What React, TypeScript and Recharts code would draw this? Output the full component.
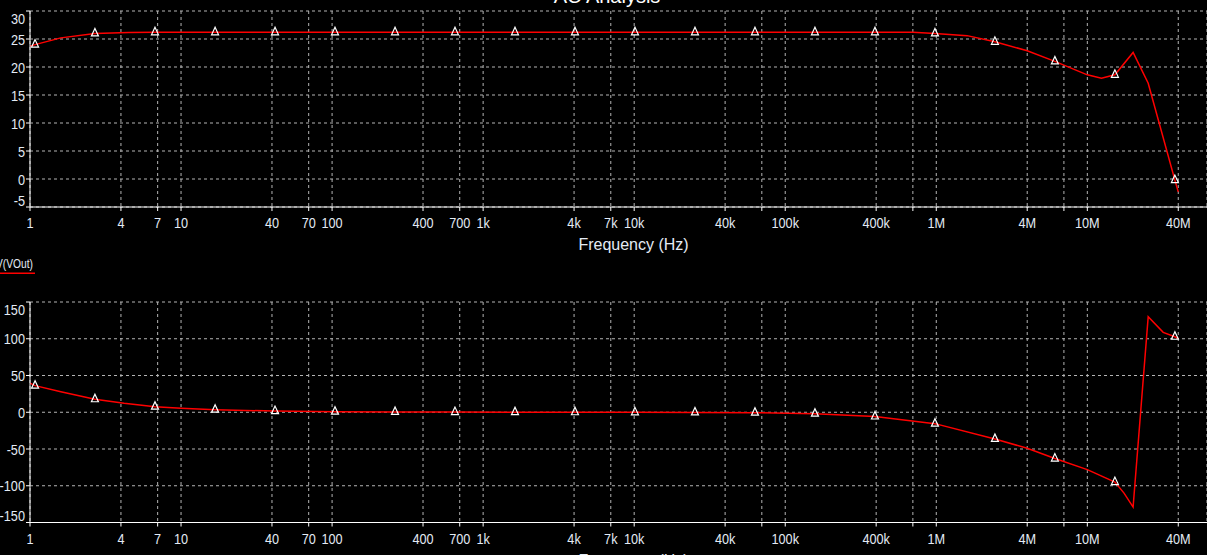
import React from "react";
import { ComposedChart, Line, Scatter, XAxis, YAxis, CartesianGrid } from "recharts";

// frequency sweep, Hz
const markerFreq = [1.08, 2.69, 6.72, 16.8, 41.9, 104.5, 261, 651, 1625, 4055, 10120, 25260, 63040, 157300, 392700, 980000, 2.445e6, 6.1e6, 1.523e7, 3.8e7];
const gainMarks = [24.0, 26.0, 26.2, 26.2, 26.2, 26.2, 26.2, 26.2, 26.2, 26.2, 26.2, 26.2, 26.2, 26.2, 26.2, 26.0, 24.5, 21.0, 18.6, -0.2];
const phaseMarks = [36.2, 17.7, 7.6, 3.5, 1.6, 0.8, 0.4, 0.2, 0.1, 0, -0.1, -0.3, -0.6, -1.9, -5.8, -15.5, -36.3, -63, -95, 102.7];

const gainFreq = [1, 1.08, 1.6, 2.69, 4.5, 6.72, 700000, 980000, 1.6e6, 2.445e6, 4e6, 6.1e6, 1e7, 1.24e7, 1.523e7, 2.01e7, 2.53e7, 3.8e7, 4e7];
const gainDb = [23.7, 24.0, 25.2, 26.0, 26.15, 26.2, 26.2, 26.0, 25.6, 24.5, 22.9, 21.0, 18.6, 18.0, 18.6, 22.6, 17.1, -0.2, -2.3];

const phaseFreq = [1, 1.08, 1.6, 2.69, 4.2, 6.72, 10, 16.8, 41.9, 104.5, 261, 651, 1625, 4055, 10120, 25260, 63040, 157300, 392700, 980000, 2.445e6, 4e6, 6.1e6, 1e7, 1.523e7, 1.75e7, 2.01e7, 2.53e7, 3.18e7, 3.8e7, 4e7];
const phaseDeg = [39.4, 36.2, 28, 17.7, 12.2, 7.6, 5.5, 3.5, 1.6, 0.8, 0.4, 0.2, 0.1, 0, -0.1, -0.3, -0.6, -1.9, -5.8, -15.5, -36.3, -49, -63, -78, -95, -110, -129, 130, 108.7, 102.7, 100.5];

const freqTicks = [1, 4, 7, 10, 40, 70, 100, 400, 700, 1e3, 4e3, 7e3, 1e4, 4e4, 7e4, 1e5, 4e5, 7e5, 1e6, 4e6, 7e6, 1e7, 4e7];
const hiddenTicks = [7e4, 7e5, 7e6];
const gainTicks = [-5, 0, 5, 10, 15, 20, 25, 30];
const phaseTicks = [-150, -100, -50, 0, 50, 100, 150];

const gainCurve = gainFreq.map((f, i) => ({ f, v: gainDb[i] }));
const phaseCurve = phaseFreq.map((f, i) => ({ f, v: phaseDeg[i] }));
const gainMarkData = markerFreq.map((f, i) => ({ f, v: gainMarks[i] }));
const phaseMarkData = markerFreq.map((f, i) => ({ f, v: phaseMarks[i] }));

const W = 1207;
const X_MAX = 6.2e7;
const FONT = "'Liberation Sans', Arial, sans-serif";
const TICK_COLOR = "#e4ebf5";
const GRID = "#b4b4b4";
const NARROW = "scale(0.82,1)";

function fmtFreq(v: number) {
  if (hiddenTicks.includes(v)) return "";
  if (v >= 1e6) return `${v / 1e6}M`;
  if (v >= 1e3) return `${v / 1e3}k`;
  return `${v}`;
}

const XTick = (props: any) => {
  const { x, y, payload } = props;
  return (
    <g transform={`translate(${x},${y})`}>
      <text transform={NARROW} textAnchor="middle" dy="0.71em" fill={TICK_COLOR} fontSize={15.5} fontFamily={FONT}>
        {fmtFreq(payload.value)}
      </text>
    </g>
  );
};

function makeYTick(min: number, max: number) {
  return (props: any) => {
    const { x, y, payload } = props;
    let yy = y;
    if (payload.value === min) yy = y - 7;
    if (payload.value === max) yy = y + 7.5;
    return (
      <g transform={`translate(${x},${yy})`}>
        <text transform={NARROW} dy="0.355em" textAnchor="end" fill={TICK_COLOR} fontSize={15.5} fontFamily={FONT}>
          {payload.value}
        </text>
      </g>
    );
  };
}

const Triangle = (props: any) => {
  const { cx, cy } = props;
  if (cx == null || cy == null) return null;
  return (
    <polygon
      points={`${cx},${cy - 5} ${cx - 3.5},${cy + 2.5} ${cx + 3.5},${cy + 2.5}`}
      fill="none"
      stroke="#ffffff"
      strokeWidth={1.2}
    />
  );
};

function Plot({ curve, marks, ticks, domain, height, top, plotH }: any) {
  return (
    <ComposedChart
      width={W}
      height={height}
      data={curve}
      margin={{ top, right: 0, left: 0, bottom: height - top - plotH - 53 }}
    >
      <CartesianGrid stroke={GRID} strokeDasharray="3 3" />
      <XAxis
        dataKey="f"
        type="number"
        scale="log"
        domain={[1, X_MAX]}
        allowDataOverflow
        ticks={freqTicks}
        interval={0}
        height={53}
        stroke="#ffffff"
        tickSize={4}
        tickMargin={6}
        tick={XTick}
        label={{
          value: "Frequency (Hz)",
          position: "insideTop",
          offset: 32,
          dx: 15,
          fill: TICK_COLOR,
          fontSize: 16,
          fontFamily: FONT,
        }}
      />
      <YAxis
        dataKey="v"
        type="number"
        domain={domain}
        ticks={ticks}
        interval={0}
        allowDataOverflow
        width={30}
        stroke="#ffffff"
        tickSize={4}
        tickMargin={1}
        tick={makeYTick(domain[0], domain[1])}
      />
      <Line
        dataKey="v"
        type="linear"
        stroke="#ff0000"
        strokeWidth={1.5}
        dot={false}
        activeDot={false}
        isAnimationActive={false}
      />
      <Scatter data={marks} dataKey="v" shape={Triangle} isAnimationActive={false} />
    </ComposedChart>
  );
}

export default function App() {
  return (
    <div
      style={{
        position: "fixed",
        left: 0,
        top: 0,
        width: W,
        height: 555,
        background: "#000000",
        overflow: "hidden",
      }}
    >
      <svg width={W} height={40} style={{ position: "absolute", left: 0, top: 0, overflow: "visible" }}>
        <text x={607} y={2.5} textAnchor="middle" fill="#ffffff" fontSize={20} fontFamily={FONT}>
          AC Analysis
        </text>
      </svg>
      <div style={{ position: "absolute", left: 0, top: 0 }}>
        <Plot curve={gainCurve} marks={gainMarkData} ticks={gainTicks} domain={[-5, 30]} height={260} top={11} plotH={196} />
      </div>
      <svg width={60} height={20} style={{ position: "absolute", left: 0, top: 256 }}>
        <g transform="translate(33,12.3)">
          <text transform={NARROW} textAnchor="end" fill={TICK_COLOR} fontSize={12.5} fontFamily={FONT}>
            V(VOut)
          </text>
        </g>
        <line x1={0} x2={35} y1={17.3} y2={17.3} stroke="#ff0000" strokeWidth={1.5} />
      </svg>
      <div style={{ position: "absolute", left: 0, top: 290 }}>
        <Plot curve={phaseCurve} marks={phaseMarkData} ticks={phaseTicks} domain={[-150, 150]} height={286} top={12} plotH={220.5} />
      </div>
    </div>
  );
}
